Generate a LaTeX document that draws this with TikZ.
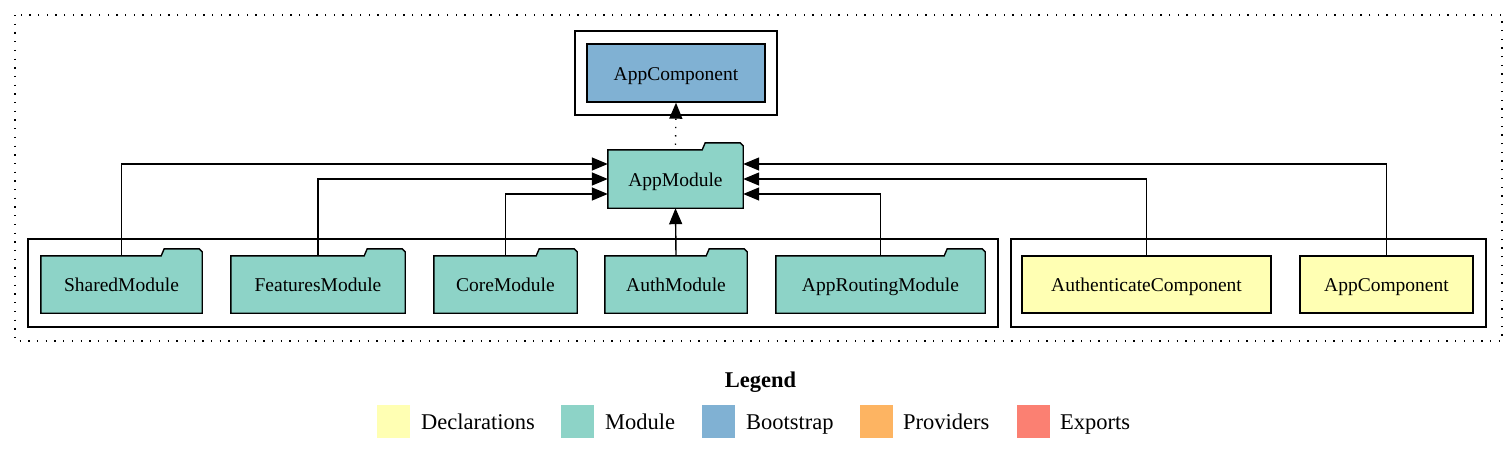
\documentclass[tikz,border=0pt]{standalone}
\usepackage{fontspec}
\setmainfont{Liberation Serif}
\usetikzlibrary{arrows.meta,backgrounds}
\definecolor{modc}{HTML}{8DD3C7}
\definecolor{bootc}{HTML}{80B1D3}
\definecolor{declc}{HTML}{FFFFB3}
\definecolor{provc}{HTML}{FDB462}
\definecolor{expc}{HTML}{FB8072}
\tikzset{
  every node/.style={font=\fontsize{19.5}{23}\selectfont, inner sep=0pt, text height=15pt, text depth=1pt},
  modnode/.style={minimum width=#1, minimum height=57},
  boxnode/.style={draw, line width=1.4pt, minimum width=#1, minimum height=57},
  cluster/.style={draw, line width=1.3pt},
  outerbox/.style={draw, line width=1.3pt, dash pattern=on 1.3pt off 7.4pt},
  edge/.style={draw, line width=1.4pt, -{Triangle[length=16pt,width=13pt]}},
  dotedge/.style={edge, dash pattern=on 1.3pt off 7pt},
  legsq/.style={fill=#1, minimum width=33, minimum height=33, text height=0pt, text depth=0pt},
  legtxt/.style={font=\fontsize{22.5}{26}\selectfont, anchor=west, text height=17.5pt, text depth=1.5pt},
}
\begin{document}
\begin{tikzpicture}[x=1pt,y=-1pt]
\useasboundingbox (0,0) rectangle (1512,450);
% clusters
\draw[outerbox] (15,15) rectangle (1502,341);
\draw[cluster] (575,31) rectangle (777,115);
\draw[cluster] (28,239) rectangle (998,327);
\draw[cluster] (1011,239) rectangle (1486,327);
% nodes
\node[boxnode=178, minimum height=58, fill=bootc] (bs) at (676,73) {AppComponent};
\node[modnode=135, minimum height=58] (am) at (675.5,179) {AppModule};
\node[modnode=161] (sm) at (121.5,284.5) {SharedModule};
\node[modnode=174] (fm) at (318,284.5) {FeaturesModule};
\node[modnode=143] (cm) at (505.5,284.5) {CoreModule};
\node[modnode=142] (au) at (676,284.5) {AuthModule};
\node[modnode=209] (ar) at (880.5,284.5) {AppRoutingModule};
\node[boxnode=249, fill=declc] (ac) at (1146.5,284.5) {AuthenticateComponent};
\node[boxnode=173, fill=declc] (dc) at (1386.5,284.5) {AppComponent};
% folder outlines
\begin{pgfonlayer}{background}
\foreach \n in {am,sm,fm,cm,au,ar}{
  \filldraw[fill=modc, line width=1.4pt, line join=miter]
    (\n.south west) -- (\n.north west) -- ([xshift=-41pt]\n.north east)
    -- ([xshift=-38pt,yshift=7pt]\n.north east) -- ([xshift=-3pt,yshift=7pt]\n.north east)
    -- ([yshift=4pt]\n.north east) -- (\n.south east) -- cycle;
}
\end{pgfonlayer}
% edges
\draw[edge] (sm.north) |- ([yshift=15pt]am.west);
\draw[edge] (fm.north) |- (am.west);
\draw[edge] (cm.north) |- ([yshift=-15pt]am.west);
\draw[edge] (au.north) -- (am.south);
\draw[edge] (ar.north) |- ([yshift=-15pt]am.east);
\draw[edge] (ac.north) |- (am.east);
\draw[edge] (dc.north) |- ([yshift=15pt]am.east);
\draw[dotedge] ([yshift=5pt]am.north) -- (bs.south);
% legend
\node[font=\fontsize{22.5}{26}\selectfont\bfseries, text height=17.5pt, text depth=1.5pt] (lg) at (760.5,379) {Legend};
\node[legsq=declc] (l1) at (393.5,421.5) {};
\node[legtxt] (t1) at (421,421.5) {Declarations};
\node[legsq=modc] (l2) at (577,421.5) {};
\node[legtxt] (t2) at (605,421.5) {Module};
\node[legsq=bootc] (l3) at (718,421.5) {};
\node[legtxt] (t3) at (746,421.5) {Bootstrap};
\node[legsq=provc] (l4) at (876,421.5) {};
\node[legtxt] (t4) at (903,421.5) {Providers};
\node[legsq=expc] (l5) at (1033,421.5) {};
\node[legtxt] (t5) at (1060,421.5) {Exports};
\end{tikzpicture}
\end{document}
